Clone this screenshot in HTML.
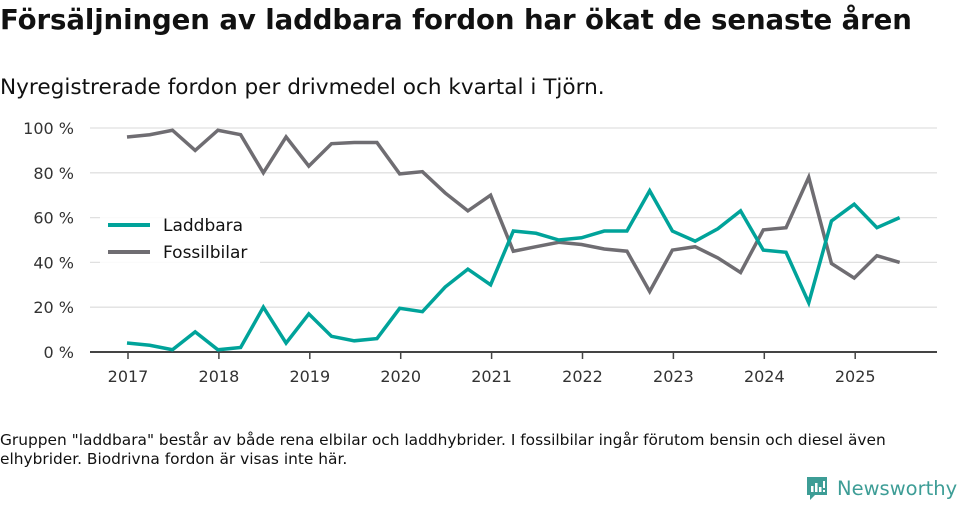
<!DOCTYPE html>
<html><head><meta charset="utf-8"><style>
body{margin:0;width:960px;height:505px;background:#fff;font-family:"DejaVu Sans","Liberation Sans",sans-serif;color:#111;position:relative;overflow:hidden}
h1{position:absolute;left:0;top:3px;margin:0;font-size:27.6px;font-weight:bold;letter-spacing:-0.1px;white-space:nowrap}
.sub{position:absolute;left:0;top:75px;font-size:21.6px;white-space:nowrap}
.note{position:absolute;left:0;top:431px;font-size:15.4px;line-height:19px;width:940px}
.logo{position:absolute;left:805px;top:475px;display:flex;align-items:center;color:#3d9d96;font-size:19.5px;white-space:nowrap}
</style></head><body>
<h1>Försäljningen av laddbara fordon har ökat de senaste åren</h1>
<div class="sub">Nyregistrerade fordon per drivmedel och kvartal i Tjörn.</div>
<svg id="chart" width="960" height="420" style="position:absolute;left:0;top:0"></svg>
<div class="note">Gruppen "laddbara" består av både rena elbilar och laddhybrider. I fossilbilar ingår förutom bensin och diesel även elhybrider. Biodrivna fordon är visas inte här.</div>
<div class="logo">
<svg width="24" height="26" viewBox="0 0 24 26" style="margin-right:8px"><path d="M2 2h20v18h-12l-5 5v-5h-3z" fill="#3d9d96"/><rect x="6" y="11" width="2.5" height="6" fill="#fff"/><rect x="10" y="8" width="2.5" height="9" fill="#fff"/><rect x="14" y="12" width="2.5" height="5" fill="#fff"/><rect x="18" y="6" width="2" height="7" fill="#fff"/><rect x="18" y="15" width="2" height="2" fill="#fff"/></svg>Newsworthy</div>
<script>
const years=[2017,2018,2019,2020,2021,2022,2023,2024,2025];
const yTicks=[0,20,40,60,80,100];
const laddbara=[4,3,1,9,1,2,20,4,17,7,5,6,19.5,18,29,37,30,54,53,50,51,54,54,72,54,49.5,55,63,45.5,44.5,22,58.5,66,55.5,60];
const fossil=[96,97,99,90,99,97,80,96,83,93,93.5,93.5,79.5,80.5,71,63,70,45,47,49,48,46,45,27,45.5,47,42,35.5,54.5,55.5,78,39.5,33,43,40];
const NS="http://www.w3.org/2000/svg",svg=document.getElementById('chart');
const x=t=>127+(t-2017)*90.9, y=v=>352-v*2.24;
function el(tag,a){const e=document.createElementNS(NS,tag);for(const k in a)e.setAttribute(k,a[k]);svg.appendChild(e);return e;}
yTicks.forEach(v=>{
 if(v>0){const g=el('line',{x1:90,x2:937,y1:y(v),y2:y(v),stroke:'#e0e0e0','stroke-width':1.3});
 
 }
 const t=el('text',{x:74,y:y(v)+6,'text-anchor':'end','font-size':16,fill:'#333'});t.textContent=v+' %';
 
 
});
const ax=el('line',{x1:90,x2:937,y1:352,y2:352,stroke:'#444','stroke-width':2});


years.forEach(yr=>{
 const tk=el('line',{x1:x(yr)+1,x2:x(yr)+1,y1:352,y2:359,stroke:'#444','stroke-width':1.5});
 
 
 const t=el('text',{x:x(yr)+1,y:382,'text-anchor':'middle','font-size':16,fill:'#333'});t.textContent=yr;
 
 
});
function line(data,color,name){
 const p=el('polyline',{points:data.map((v,i)=>x(2017+i/4)+','+y(v)).join(' '),fill:'none',stroke:color,'stroke-width':3.5,'stroke-linejoin':'miter'});
 
 
}
line(fossil,'#6f6d72','fossilbilar-line');
line(laddbara,'#00a39a','laddbara-line');
const bg=el('rect',{x:100,y:217,width:160,height:50,fill:'#fff',opacity:0.85});


[['Laddbara','#00a39a',225],['Fossilbilar','#6f6d72',252]].forEach(([n,c,yy])=>{
 const l=el('line',{x1:108,x2:150,y1:yy,y2:yy,stroke:c,'stroke-width':4});
 
 
 const t=el('text',{x:163,y:yy+6,'font-size':17,fill:'#111'});t.textContent=n;
 
 
});
</script>
</body></html>
